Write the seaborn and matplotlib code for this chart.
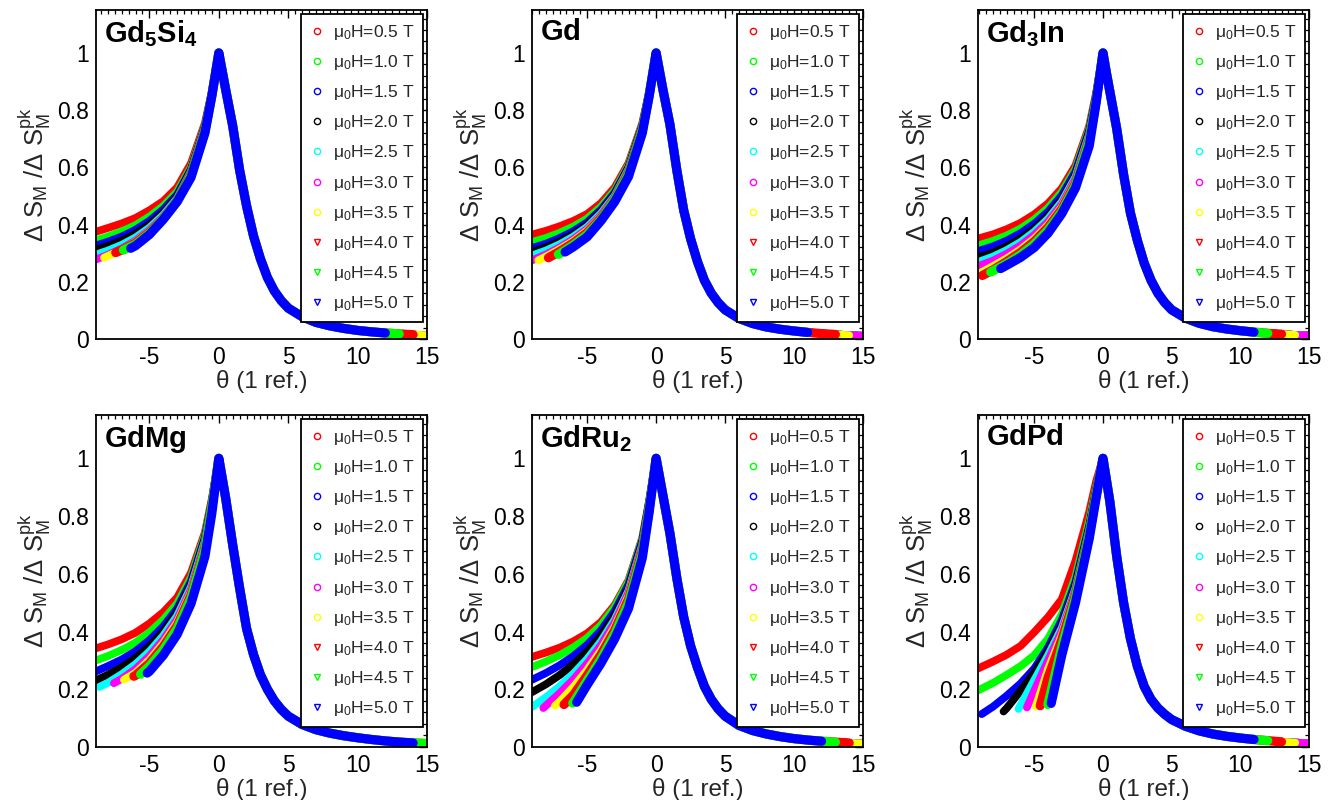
import numpy as np
import pandas as pd
import matplotlib
matplotlib.use("Agg")
import matplotlib.pyplot as plt
import seaborn as sns
from matplotlib.lines import Line2D
from matplotlib.ticker import MultipleLocator, FuncFormatter

# ---------------- data ----------------
FIELDS = ["0.5", "1.0", "1.5", "2.0", "2.5", "3.0", "3.5", "4.0", "4.5", "5.0"]
COLORS = ["#ff0000", "#00ff00", "#0000ff", "#000000", "#00ffff",
          "#ff00ff", "#ffff00", "#ff0000", "#00ff00", "#0000ff"]
MARKERS = ["o", "o", "o", "o", "o", "o", "o", "v", "v", "v"]

LEFT_GRID = [-8, -7, -6, -5, -4, -3, -2, -1, -0.5]
RIGHT_GRID = [0.25, 0.5, 1, 1.5, 2, 2.5, 3, 3.5, 4, 4.5, 5, 6, 7, 8, 9, 10, 11, 12, 13, 14, 15]
PEAK = 1.0

# Gd5Si4
GD5SI4_START_THETA = [-8.85, -8.85, -8.85, -8.85, -8.85, -8.85, -8.27, -7.43, -6.88, -6.35]
GD5SI4_START_Y = [0.375, 0.345, 0.327, 0.312, 0.295, 0.278, 0.284, 0.302, 0.311, 0.317]
GD5SI4_LEFT = [
    [0.388, 0.404, 0.423, 0.450, 0.482, 0.530, 0.615, 0.755, 0.865],
    [0.358, 0.376, 0.398, 0.428, 0.465, 0.515, 0.602, 0.748, 0.862],
    [0.340, 0.358, 0.382, 0.413, 0.453, 0.505, 0.595, 0.744, 0.860],
    [0.325, 0.344, 0.368, 0.400, 0.442, 0.498, 0.590, 0.740, 0.858],
    [0.309, 0.329, 0.355, 0.389, 0.434, 0.492, 0.586, 0.738, 0.857],
    [0.294, 0.316, 0.344, 0.381, 0.428, 0.488, 0.584, 0.736, 0.856],
    [0.290, 0.312, 0.340, 0.377, 0.425, 0.486, 0.583, 0.735, 0.855],
    [0.311, 0.336, 0.373, 0.422, 0.483, 0.578, 0.728, 0.853],
    [0.331, 0.369, 0.420, 0.482, 0.572, 0.724, 0.851],
    [0.326, 0.365, 0.418, 0.480, 0.565, 0.720, 0.850],
]
GD5SI4_RIGHT = [0.935, 0.87, 0.745, 0.59, 0.465, 0.36, 0.28, 0.215, 0.168, 0.134, 0.108,
                0.078, 0.058, 0.046, 0.037, 0.030, 0.025, 0.021, 0.018, 0.015, 0.013]
GD5SI4_END = [15, 15, 15, 15, 15, 15, 15, 14.15, 13.2, 12.35]

# Gd
GD_START_THETA = [-9.0, -9.0, -9.0, -9.0, -9.0, -9.0, -8.54, -7.81, -7.09, -6.6]
GD_START_Y = [0.365, 0.339, 0.318, 0.304, 0.292, 0.275, 0.275, 0.284, 0.296, 0.304]
GD_LEFT = [
    [0.378, 0.394, 0.413, 0.437, 0.475, 0.530, 0.615, 0.755, 0.865],
    [0.353, 0.371, 0.393, 0.421, 0.462, 0.520, 0.608, 0.750, 0.862],
    [0.333, 0.353, 0.377, 0.408, 0.452, 0.512, 0.602, 0.746, 0.860],
    [0.320, 0.341, 0.366, 0.399, 0.445, 0.506, 0.598, 0.743, 0.858],
    [0.309, 0.331, 0.358, 0.392, 0.439, 0.501, 0.594, 0.740, 0.857],
    [0.295, 0.320, 0.349, 0.385, 0.433, 0.497, 0.591, 0.738, 0.856],
    [0.288, 0.314, 0.343, 0.379, 0.428, 0.493, 0.588, 0.736, 0.855],
    [0.306, 0.336, 0.372, 0.423, 0.490, 0.582, 0.732, 0.854],
    [0.298, 0.329, 0.365, 0.418, 0.487, 0.576, 0.728, 0.853],
    [0.322, 0.357, 0.413, 0.480, 0.568, 0.720, 0.850],
]
GD_RIGHT = [0.935, 0.87, 0.75, 0.59, 0.45, 0.35, 0.27, 0.205, 0.16, 0.127, 0.102,
            0.072, 0.054, 0.042, 0.034, 0.028, 0.023, 0.019, 0.016, 0.013, 0.011]
GD_END = [15, 15, 15, 15, 15, 15, 14.3, 13.2, 11.9, 11.3]

# Gd3In
GD3IN_START_THETA = [-9.1, -9.1, -9.1, -9.1, -9.1, -9.1, -8.9, -8.78, -8.18, -7.45]
GD3IN_START_Y = [0.351, 0.327, 0.307, 0.284, 0.269, 0.254, 0.232, 0.222, 0.234, 0.246]
GD3IN_LEFT = [
    [0.366, 0.384, 0.406, 0.436, 0.474, 0.527, 0.607, 0.745, 0.860],
    [0.343, 0.362, 0.386, 0.418, 0.458, 0.514, 0.595, 0.737, 0.855],
    [0.324, 0.344, 0.370, 0.403, 0.445, 0.502, 0.585, 0.730, 0.851],
    [0.302, 0.324, 0.351, 0.386, 0.430, 0.489, 0.574, 0.722, 0.846],
    [0.288, 0.311, 0.339, 0.375, 0.420, 0.480, 0.567, 0.716, 0.843],
    [0.274, 0.298, 0.327, 0.364, 0.410, 0.471, 0.560, 0.710, 0.840],
    [0.255, 0.282, 0.313, 0.351, 0.399, 0.462, 0.552, 0.703, 0.836],
    [0.242, 0.271, 0.303, 0.341, 0.390, 0.454, 0.545, 0.697, 0.833],
    [0.238, 0.264, 0.294, 0.332, 0.381, 0.446, 0.538, 0.690, 0.830],
    [0.258, 0.285, 0.320, 0.370, 0.438, 0.528, 0.675, 0.825],
]
GD3IN_RIGHT = [0.93, 0.865, 0.735, 0.575, 0.44, 0.345, 0.265, 0.205, 0.16, 0.127, 0.102,
               0.073, 0.055, 0.043, 0.035, 0.029, 0.024, 0.020, 0.017, 0.014, 0.012]
GD3IN_END = [15, 15, 15, 15, 15, 15, 14.8, 13.5, 12.7, 11.6]

# GdMg
GDMG_START_THETA = [-8.85, -8.85, -8.85, -8.85, -8.6, -7.56, -6.84, -6.12, -5.64, -5.16]
GDMG_START_Y = [0.342, 0.300, 0.262, 0.231, 0.208, 0.221, 0.233, 0.245, 0.252, 0.256]
GDMG_LEFT = [
    [0.355, 0.373, 0.396, 0.428, 0.467, 0.518, 0.604, 0.744, 0.860],
    [0.315, 0.336, 0.362, 0.397, 0.441, 0.497, 0.588, 0.735, 0.855],
    [0.280, 0.303, 0.332, 0.370, 0.418, 0.480, 0.575, 0.727, 0.851],
    [0.250, 0.276, 0.308, 0.349, 0.401, 0.467, 0.565, 0.720, 0.847],
    [0.222, 0.252, 0.287, 0.331, 0.386, 0.455, 0.556, 0.714, 0.844],
    [0.236, 0.270, 0.315, 0.372, 0.443, 0.547, 0.707, 0.840],
    [0.257, 0.302, 0.360, 0.432, 0.537, 0.700, 0.836],
    [0.248, 0.290, 0.348, 0.420, 0.527, 0.692, 0.832],
    [0.280, 0.337, 0.410, 0.517, 0.683, 0.828],
    [0.262, 0.318, 0.390, 0.497, 0.660, 0.810],
]
GDMG_RIGHT = [0.93, 0.86, 0.70, 0.55, 0.41, 0.32, 0.25, 0.20, 0.16, 0.13, 0.107,
              0.078, 0.060, 0.048, 0.039, 0.032, 0.026, 0.021, 0.017, 0.014, 0.012]
GDMG_END = [15, 15, 15, 15, 15, 15, 15, 15, 15, 14.3]

# GdRu2
GDRU2_START_THETA = [-9.0, -9.0, -9.0, -9.0, -8.95, -8.18, -7.33, -6.68, -6.05, -5.76]
GDRU2_START_Y = [0.312, 0.277, 0.233, 0.190, 0.140, 0.135, 0.143, 0.147, 0.152, 0.155]
GDRU2_LEFT = [
    [0.327, 0.344, 0.366, 0.394, 0.433, 0.492, 0.578, 0.725, 0.855],
    [0.296, 0.318, 0.345, 0.378, 0.422, 0.485, 0.573, 0.722, 0.853],
    [0.256, 0.283, 0.315, 0.354, 0.404, 0.471, 0.563, 0.716, 0.850],
    [0.217, 0.249, 0.286, 0.331, 0.386, 0.457, 0.553, 0.709, 0.846],
    [0.172, 0.210, 0.254, 0.305, 0.366, 0.442, 0.542, 0.702, 0.842],
    [0.143, 0.186, 0.234, 0.289, 0.353, 0.432, 0.535, 0.697, 0.838],
    [0.157, 0.208, 0.267, 0.335, 0.418, 0.524, 0.689, 0.833],
    [0.180, 0.248, 0.320, 0.405, 0.512, 0.680, 0.828],
    [0.154, 0.230, 0.305, 0.392, 0.500, 0.670, 0.823],
    [0.215, 0.290, 0.375, 0.480, 0.655, 0.815],
]
GDRU2_RIGHT = [0.935, 0.87, 0.74, 0.585, 0.45, 0.35, 0.275, 0.21, 0.165, 0.132, 0.107,
               0.075, 0.057, 0.045, 0.036, 0.029, 0.024, 0.020, 0.017, 0.014, 0.012]
GDRU2_END = [15, 15, 15, 15, 15, 15, 15, 14.1, 13.0, 12.27]

# GdPd
GDPD_START_THETA = [-9.1, -9.1, -8.83, -7.24, -6.15, -5.54, -4.89, -4.57, -4.01, -3.77]
GDPD_START_Y = [0.272, 0.196, 0.114, 0.123, 0.132, 0.137, 0.140, 0.143, 0.147, 0.151]
GDPD_LEFT = [
    [0.296, 0.320, 0.350, 0.398, 0.450, 0.512, 0.645, 0.815, 0.920],
    [0.222, 0.250, 0.280, 0.318, 0.375, 0.460, 0.590, 0.785, 0.900],
    [0.140, 0.178, 0.220, 0.272, 0.345, 0.440, 0.572, 0.768, 0.892],
    [0.135, 0.195, 0.258, 0.332, 0.425, 0.560, 0.760, 0.887],
    [0.145, 0.232, 0.318, 0.413, 0.550, 0.753, 0.883],
    [0.195, 0.300, 0.402, 0.543, 0.748, 0.880],
    [0.270, 0.388, 0.535, 0.743, 0.876],
    [0.240, 0.372, 0.528, 0.738, 0.873],
    [0.150, 0.348, 0.518, 0.732, 0.870],
    [0.318, 0.500, 0.722, 0.862],
]
GDPD_RIGHT = [0.925, 0.85, 0.66, 0.50, 0.375, 0.28, 0.21, 0.165, 0.135, 0.113, 0.095,
              0.072, 0.056, 0.045, 0.037, 0.031, 0.026, 0.022, 0.018, 0.015, 0.013]
GDPD_END = [15, 15, 15, 15, 15, 15, 14.3, 13.3, 12.0, 11.2]

PANELS = [
    (r"$\mathbf{Gd_5Si_4}$", GD5SI4_START_THETA, GD5SI4_START_Y, GD5SI4_LEFT, GD5SI4_RIGHT, GD5SI4_END),
    (r"$\mathbf{Gd}$", GD_START_THETA, GD_START_Y, GD_LEFT, GD_RIGHT, GD_END),
    (r"$\mathbf{Gd_3In}$", GD3IN_START_THETA, GD3IN_START_Y, GD3IN_LEFT, GD3IN_RIGHT, GD3IN_END),
    (r"$\mathbf{GdMg}$", GDMG_START_THETA, GDMG_START_Y, GDMG_LEFT, GDMG_RIGHT, GDMG_END),
    (r"$\mathbf{GdRu_2}$", GDRU2_START_THETA, GDRU2_START_Y, GDRU2_LEFT, GDRU2_RIGHT, GDRU2_END),
    (r"$\mathbf{GdPd}$", GDPD_START_THETA, GDPD_START_Y, GDPD_LEFT, GDPD_RIGHT, GDPD_END),
]
XMIN = [-8.85, -9.0, -9.1]

# ---------------- style ----------------
sns.set_theme(style="white")
plt.rcParams["font.family"] = ["Liberation Sans", "DejaVu Sans"]
plt.rcParams["mathtext.fontset"] = "custom"
plt.rcParams["mathtext.rm"] = "Liberation Sans"
plt.rcParams["mathtext.it"] = "Liberation Sans:italic"
plt.rcParams["mathtext.bf"] = "Liberation Sans:bold"
plt.rcParams["mathtext.sf"] = "Liberation Sans"
plt.rcParams["axes.unicode_minus"] = False

fig = plt.figure(figsize=(13.34, 8.0), dpi=100)
W, H = 1334.0, 800.0
col_left = [96, 532, 978]
col_w = 331
row_top = [10, 415]
row_h = [329, 332]

for idx, (title, st, sy, left, right, end) in enumerate(PANELS):
    r, c = divmod(idx, 3)
    ax = fig.add_axes([col_left[c] / W, 1 - (row_top[r] + row_h[r]) / H,
                       col_w / W, row_h[r] / H])
    rows = []
    for k, f in enumerate(FIELDS):
        lv = left[k]
        th = [st[k]] + LEFT_GRID[-len(lv):] + [0.0]
        yv = [sy[k]] + list(lv) + [PEAK]
        for t, v in zip(RIGHT_GRID, right):
            if t <= end[k] + 1e-9:
                th.append(t)
                yv.append(v)
        for t, v in zip(th, yv):
            rows.append({"theta": t, "ratio": v, "field": f})
    df = pd.DataFrame(rows)
    sns.lineplot(data=df, x="theta", y="ratio", hue="field", hue_order=FIELDS,
                 palette=COLORS, sort=False, estimator=None, legend=False,
                 linewidth=5.6, ax=ax)
    for k, ln in enumerate(ax.get_lines()):
        ln.set_solid_joinstyle("round")
        ln.set_solid_capstyle("round")
        if k >= 7:
            ln.set_linewidth(6.6)

    ax.set_xlim(XMIN[c], 15)
    ax.set_ylim(0, 1.15)
    ax.xaxis.set_major_locator(MultipleLocator(5))
    ax.xaxis.set_minor_locator(MultipleLocator(0.5))
    ax.yaxis.set_major_locator(MultipleLocator(0.2))
    ax.yaxis.set_minor_locator(MultipleLocator(0.04))
    ax.yaxis.set_major_formatter(FuncFormatter(lambda v, p: f"{v:g}"))
    ax.tick_params(which="both", direction="in", top=True, right=True,
                   labelsize=16.5, colors="black")
    ax.tick_params(which="major", length=6, width=1.0, pad=5)
    ax.tick_params(which="minor", length=3, width=0.9)
    for sp in ax.spines.values():
        sp.set_linewidth(1.3)
        sp.set_color("black")
        sp.set_zorder(5)

    ax.set_xlabel("θ (1 ref.)", fontsize=17.5, labelpad=1)
    ax.set_ylabel("Δ S$_\\mathrm{M}$ /Δ S$_\\mathrm{M}^\\mathrm{pk}$", fontsize=18.5, labelpad=3)
    ax.text(0.025, 0.975, title, transform=ax.transAxes, ha="left", va="top",
            fontsize=21, color="black")

    handles = [Line2D([], [], linestyle="", marker=m, markerfacecolor="none",
                      markeredgecolor=col, markersize=4.5, markeredgewidth=1.0)
               for m, col in zip(MARKERS, COLORS)]
    labels = [f"μ$_\\mathrm{{0}}$H={f} T" for f in FIELDS]
    leg = ax.legend(handles, labels, loc="upper right", fontsize=12.5,
                    frameon=True, fancybox=False, framealpha=1, edgecolor="black",
                    borderaxespad=0.25, labelspacing=0.64, handlelength=0.8,
                    handletextpad=0.5, borderpad=0.5)
    leg.get_frame().set_linewidth(1.3)
    leg.set_zorder(10)

fig.savefig("out.png", dpi=100)
